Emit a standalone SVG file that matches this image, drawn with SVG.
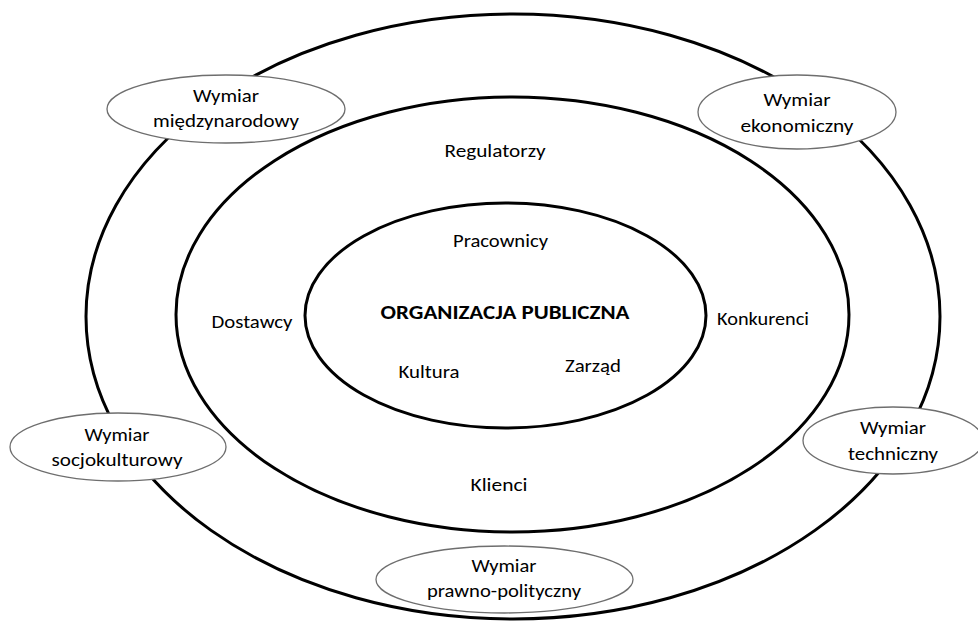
<svg xmlns="http://www.w3.org/2000/svg" width="978" height="623" viewBox="0 0 978 623">
<style>
.ring{fill:none;stroke:#000;stroke-width:3}
.dim{fill:#fff;stroke:#6e6e6e;stroke-width:1.3}
text{font-family:Calibri,Carlito,Lato,"Liberation Sans",sans-serif;font-size:19px;fill:#000;text-anchor:middle}
.b{font-weight:bold;font-size:20px}
</style>
<rect width="978" height="623" fill="#fff"/>
<g id="ring-outer"><ellipse class="ring" cx="513" cy="316.5" rx="427" ry="302.5"/></g>
<g id="ring-middle"><ellipse class="ring" cx="512.5" cy="314.5" rx="336.5" ry="217.5"/></g>
<g id="ring-inner"><ellipse class="ring" cx="505.5" cy="315.5" rx="200.5" ry="112.5"/></g>
<g id="connectors"/>
<g id="org"><text class="b" x="505" y="319" textLength="249" lengthAdjust="spacingAndGlyphs">ORGANIZACJA PUBLICZNA</text></g>
<g id="pracownicy"><text x="500.5" y="247" textLength="95" lengthAdjust="spacingAndGlyphs">Pracownicy</text></g>
<g id="kultura"><text x="429" y="378" textLength="61" lengthAdjust="spacingAndGlyphs">Kultura</text></g>
<g id="zarzad"><text x="593" y="372" textLength="56" lengthAdjust="spacingAndGlyphs">Zarząd</text></g>
<g id="regulatorzy"><text x="495" y="157" textLength="101" lengthAdjust="spacingAndGlyphs">Regulatorzy</text></g>
<g id="dostawcy"><text x="252" y="328" textLength="81" lengthAdjust="spacingAndGlyphs">Dostawcy</text></g>
<g id="konkurenci"><text x="763" y="325" textLength="92" lengthAdjust="spacingAndGlyphs">Konkurenci</text></g>
<g id="klienci"><text x="499" y="491" textLength="57" lengthAdjust="spacingAndGlyphs">Klienci</text></g>
<g id="wymiar-miedzynarodowy">
<ellipse class="dim" cx="226" cy="109" rx="119" ry="34"/>
<text x="226" y="102" textLength="66" lengthAdjust="spacingAndGlyphs">Wymiar</text>
<text x="226" y="127" textLength="146" lengthAdjust="spacingAndGlyphs">międzynarodowy</text>
</g>
<g id="wymiar-ekonomiczny">
<ellipse class="dim" cx="797" cy="112" rx="99" ry="37"/>
<text x="797" y="106" textLength="67" lengthAdjust="spacingAndGlyphs">Wymiar</text>
<text x="797" y="132" textLength="113" lengthAdjust="spacingAndGlyphs">ekonomiczny</text>
</g>
<g id="wymiar-socjokulturowy">
<ellipse class="dim" cx="118" cy="447" rx="108" ry="34"/>
<text x="117" y="441" textLength="65" lengthAdjust="spacingAndGlyphs">Wymiar</text>
<text x="117" y="466" textLength="131" lengthAdjust="spacingAndGlyphs">socjokulturowy</text>
</g>
<g id="wymiar-techniczny">
<ellipse class="dim" cx="893" cy="440.5" rx="90" ry="33.5"/>
<text x="893" y="434" textLength="66" lengthAdjust="spacingAndGlyphs">Wymiar</text>
<text x="893" y="460" textLength="90" lengthAdjust="spacingAndGlyphs">techniczny</text>
</g>
<g id="wymiar-prawno-polityczny">
<ellipse class="dim" cx="504.5" cy="579.5" rx="128.5" ry="33.5"/>
<text x="504" y="572" textLength="65" lengthAdjust="spacingAndGlyphs">Wymiar</text>
<text x="504" y="597" textLength="154" lengthAdjust="spacingAndGlyphs">prawno-polityczny</text>
</g>
</svg>
